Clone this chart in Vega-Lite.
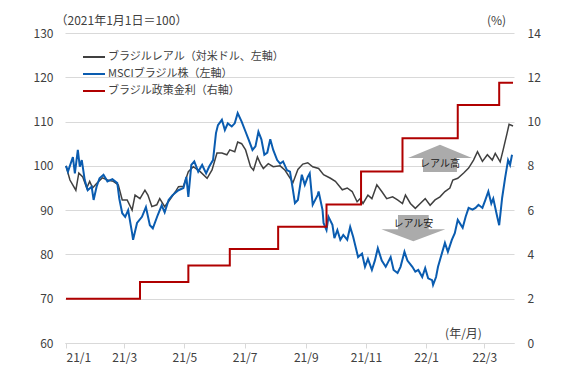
{
  "$schema": "https://vega.github.io/schema/vega-lite/v6.json",
  "width": 449,
  "height": 310,
  "autosize": {"type": "none"},
  "padding": {"left": 65, "top": 33, "right": 51, "bottom": 33},
  "background": "#ffffff",
  "config": {
    "view": {"stroke": null},
    "font": "Noto Sans CJK JP",
    "axis": {"labelFont": "Noto Sans CJK JP", "titleFont": "Noto Sans CJK JP", "labelColor": "#404040", "titleColor": "#404040", "titleFontWeight": "normal"},
    "legend": {"labelFont": "Noto Sans CJK JP"}
  },
  "datasets": {
    "brl": [
      {"d":"2021-01-01","v":100},{"d":"2021-01-05","v":96.8},{"d":"2021-01-11","v":94.5},{"d":"2021-01-14","v":98.4},{"d":"2021-01-18","v":97.5},{"d":"2021-01-22","v":95},{"d":"2021-01-25","v":96.5},{"d":"2021-01-28","v":95},{"d":"2021-02-01","v":96},{"d":"2021-02-07","v":97.3},{"d":"2021-02-12","v":96.8},{"d":"2021-02-18","v":96.5},{"d":"2021-02-23","v":95.7},{"d":"2021-02-27","v":92.3},{"d":"2021-03-04","v":92.3},{"d":"2021-03-09","v":90},{"d":"2021-03-12","v":93.4},{"d":"2021-03-17","v":92.6},{"d":"2021-03-22","v":94.5},{"d":"2021-03-25","v":93.4},{"d":"2021-03-29","v":90.8},{"d":"2021-04-03","v":91.2},{"d":"2021-04-06","v":92.6},{"d":"2021-04-11","v":90.8},{"d":"2021-04-16","v":92.3},{"d":"2021-04-22","v":94.2},{"d":"2021-04-25","v":95.3},{"d":"2021-04-30","v":95.4},{"d":"2021-05-05","v":98.7},{"d":"2021-05-10","v":99.8},{"d":"2021-05-17","v":98.7},{"d":"2021-05-24","v":97.2},{"d":"2021-05-29","v":99.1},{"d":"2021-06-03","v":102.9},{"d":"2021-06-08","v":102.9},{"d":"2021-06-13","v":102.5},{"d":"2021-06-16","v":103.6},{"d":"2021-06-21","v":103.2},{"d":"2021-06-24","v":105.4},{"d":"2021-06-28","v":105},{"d":"2021-07-02","v":103.6},{"d":"2021-07-07","v":99.8},{"d":"2021-07-10","v":99},{"d":"2021-07-14","v":102},{"d":"2021-07-17","v":100.5},{"d":"2021-07-20","v":99.4},{"d":"2021-07-25","v":100.5},{"d":"2021-07-30","v":99.8},{"d":"2021-08-06","v":100},{"d":"2021-08-11","v":99},{"d":"2021-08-19","v":96.2},{"d":"2021-08-24","v":99.2},{"d":"2021-08-29","v":100.4},{"d":"2021-09-03","v":100.7},{"d":"2021-09-08","v":99.8},{"d":"2021-09-14","v":99.4},{"d":"2021-09-19","v":98},{"d":"2021-09-26","v":97.2},{"d":"2021-10-01","v":96.5},{"d":"2021-10-08","v":94.6},{"d":"2021-10-13","v":95},{"d":"2021-10-18","v":94.2},{"d":"2021-10-23","v":91.9},{"d":"2021-10-26","v":92.6},{"d":"2021-10-29","v":91.5},{"d":"2021-11-03","v":93.4},{"d":"2021-11-07","v":92.6},{"d":"2021-11-12","v":95.7},{"d":"2021-11-17","v":94.2},{"d":"2021-11-22","v":92.6},{"d":"2021-11-28","v":93},{"d":"2021-12-03","v":92.3},{"d":"2021-12-08","v":91.5},{"d":"2021-12-11","v":93.4},{"d":"2021-12-16","v":91.5},{"d":"2021-12-21","v":90.4},{"d":"2021-12-26","v":91.5},{"d":"2021-12-31","v":92.6},{"d":"2022-01-05","v":91.1},{"d":"2022-01-10","v":92.3},{"d":"2022-01-15","v":93},{"d":"2022-01-20","v":94.2},{"d":"2022-01-25","v":95},{"d":"2022-01-28","v":96.8},{"d":"2022-02-02","v":97.2},{"d":"2022-02-08","v":98.4},{"d":"2022-02-13","v":99.5},{"d":"2022-02-18","v":101.3},{"d":"2022-02-22","v":103.2},{"d":"2022-02-27","v":101},{"d":"2022-03-04","v":102.5},{"d":"2022-03-09","v":101.3},{"d":"2022-03-12","v":102.8},{"d":"2022-03-17","v":100.9},{"d":"2022-03-20","v":103.6},{"d":"2022-03-24","v":107.4},{"d":"2022-03-26","v":109.4},{"d":"2022-03-30","v":109}
    ],
    "msci": [
      {"d":"2021-01-01","v":100},{"d":"2021-01-03","v":98.7},{"d":"2021-01-08","v":102},{"d":"2021-01-10","v":98.3},{"d":"2021-01-13","v":103.6},{"d":"2021-01-15","v":99.8},{"d":"2021-01-17","v":101.3},{"d":"2021-01-20","v":96.8},{"d":"2021-01-23","v":94.5},{"d":"2021-01-27","v":95.3},{"d":"2021-01-29","v":92.3},{"d":"2021-02-01","v":95.3},{"d":"2021-02-04","v":97.2},{"d":"2021-02-08","v":98},{"d":"2021-02-12","v":96.5},{"d":"2021-02-17","v":97},{"d":"2021-02-22","v":96.1},{"d":"2021-02-24","v":92.6},{"d":"2021-02-27","v":89.3},{"d":"2021-03-02","v":88.5},{"d":"2021-03-05","v":90},{"d":"2021-03-09","v":84.8},{"d":"2021-03-10","v":83.3},{"d":"2021-03-14","v":87.1},{"d":"2021-03-19","v":88.5},{"d":"2021-03-23","v":90.7},{"d":"2021-03-27","v":86.6},{"d":"2021-03-30","v":85.9},{"d":"2021-04-04","v":88.9},{"d":"2021-04-08","v":91.1},{"d":"2021-04-11","v":89.5},{"d":"2021-04-15","v":92.3},{"d":"2021-04-19","v":93.4},{"d":"2021-04-25","v":94.5},{"d":"2021-04-30","v":95},{"d":"2021-05-03","v":97.5},{"d":"2021-05-05","v":93},{"d":"2021-05-08","v":100.2},{"d":"2021-05-11","v":101},{"d":"2021-05-15","v":98.7},{"d":"2021-05-19","v":100.2},{"d":"2021-05-23","v":98.3},{"d":"2021-05-26","v":99.8},{"d":"2021-05-30","v":101.3},{"d":"2021-06-02","v":107.4},{"d":"2021-06-04","v":109.2},{"d":"2021-06-08","v":110.4},{"d":"2021-06-11","v":108.1},{"d":"2021-06-14","v":109.6},{"d":"2021-06-18","v":108.9},{"d":"2021-06-21","v":109.6},{"d":"2021-06-24","v":111.9},{"d":"2021-06-28","v":110},{"d":"2021-07-02","v":107.7},{"d":"2021-07-05","v":106},{"d":"2021-07-09","v":103.6},{"d":"2021-07-12","v":104.4},{"d":"2021-07-15","v":107.7},{"d":"2021-07-18","v":106},{"d":"2021-07-21","v":102.5},{"d":"2021-07-24","v":103},{"d":"2021-07-27","v":106},{"d":"2021-07-30","v":103.6},{"d":"2021-08-03","v":101.3},{"d":"2021-08-06","v":100.5},{"d":"2021-08-09","v":101},{"d":"2021-08-13","v":99},{"d":"2021-08-16","v":98.7},{"d":"2021-08-19","v":94.5},{"d":"2021-08-21","v":91.6},{"d":"2021-08-24","v":92.3},{"d":"2021-08-28","v":98},{"d":"2021-08-31","v":95.7},{"d":"2021-09-03","v":97.5},{"d":"2021-09-05","v":98.3},{"d":"2021-09-08","v":91.2},{"d":"2021-09-13","v":93.4},{"d":"2021-09-14","v":94.2},{"d":"2021-09-18","v":90},{"d":"2021-09-19","v":87.1},{"d":"2021-09-22","v":85.5},{"d":"2021-09-24","v":88.5},{"d":"2021-09-28","v":86.7},{"d":"2021-09-30","v":83.7},{"d":"2021-10-03","v":85.5},{"d":"2021-10-06","v":83.3},{"d":"2021-10-09","v":84.4},{"d":"2021-10-13","v":83.3},{"d":"2021-10-16","v":86.2},{"d":"2021-10-19","v":84},{"d":"2021-10-24","v":79.4},{"d":"2021-10-28","v":80.2},{"d":"2021-10-31","v":77.2},{"d":"2021-11-03","v":79},{"d":"2021-11-07","v":76.5},{"d":"2021-11-10","v":78.6},{"d":"2021-11-13","v":81.4},{"d":"2021-11-17","v":78.6},{"d":"2021-11-21","v":77.2},{"d":"2021-11-26","v":79.4},{"d":"2021-11-29","v":76.5},{"d":"2021-12-03","v":75.8},{"d":"2021-12-06","v":77.2},{"d":"2021-12-10","v":80.6},{"d":"2021-12-13","v":78.6},{"d":"2021-12-18","v":77.2},{"d":"2021-12-21","v":76.1},{"d":"2021-12-24","v":76.5},{"d":"2021-12-28","v":74.9},{"d":"2021-12-31","v":76.9},{"d":"2022-01-03","v":74.6},{"d":"2022-01-07","v":74.2},{"d":"2022-01-08","v":73.1},{"d":"2022-01-11","v":74.9},{"d":"2022-01-13","v":77.2},{"d":"2022-01-17","v":80.3},{"d":"2022-01-20","v":82.6},{"d":"2022-01-23","v":80.6},{"d":"2022-01-27","v":83.3},{"d":"2022-01-30","v":84.8},{"d":"2022-02-02","v":87.8},{"d":"2022-02-07","v":86},{"d":"2022-02-10","v":88.5},{"d":"2022-02-13","v":90.5},{"d":"2022-02-17","v":90.1},{"d":"2022-02-20","v":90.5},{"d":"2022-02-23","v":91.2},{"d":"2022-02-27","v":90.5},{"d":"2022-03-02","v":92.3},{"d":"2022-03-05","v":94.2},{"d":"2022-03-08","v":91.5},{"d":"2022-03-10","v":92.6},{"d":"2022-03-14","v":88.5},{"d":"2022-03-16","v":86.6},{"d":"2022-03-19","v":92.8},{"d":"2022-03-22","v":97.3},{"d":"2022-03-25","v":101.3},{"d":"2022-03-27","v":100.2},{"d":"2022-03-29","v":102.5}
    ],
    "selic": [
      {"d":"2021-01-01","r":2.0},{"d":"2021-03-17","r":2.75},{"d":"2021-05-05","r":3.5},{"d":"2021-06-16","r":4.25},{"d":"2021-08-04","r":5.25},{"d":"2021-09-22","r":6.25},{"d":"2021-10-27","r":7.75},{"d":"2021-12-08","r":9.25},{"d":"2022-02-02","r":10.75},{"d":"2022-03-16","r":11.75},{"d":"2022-03-30","r":11.75}
    ],
    "up": [{"d":"2022-01-15","v":101.8}],
    "down": [{"d":"2021-12-19","v":85.7}],
    "labels": [{"d":"2022-01-15","v":100.4,"t":"レアル高"},{"d":"2021-12-19","v":86.9,"t":"レアル安"}]
  },
  "layer": [
    {
      "encoding": {
        "x": {
          "field": "d", "type": "temporal",
          "scale": {"type": "utc", "domain": [{"year":2020,"month":12,"date":31,"utc":true},{"year":2022,"month":3,"date":31,"utc":true}]},
          "axis": {
            "values": [
              {"year":2021,"month":1,"date":1,"utc":true},{"year":2021,"month":3,"date":1,"utc":true},{"year":2021,"month":5,"date":1,"utc":true},{"year":2021,"month":7,"date":1,"utc":true},{"year":2021,"month":9,"date":1,"utc":true},{"year":2021,"month":11,"date":1,"utc":true},{"year":2022,"month":1,"date":1,"utc":true},{"year":2022,"month":3,"date":1,"utc":true}
            ],
            "format": "%y/%-m",
            "labelFontSize": 12, "labelPadding": 4,
            "grid": false, "domainColor": "#d9d9d9", "tickColor": "#d9d9d9", "tickSize": 5,
            "title": "(年/月)", "titleFontSize": 12, "titleAngle": 0, "titleAlign": "center", "titleBaseline": "middle", "titleX": 398, "titleY": -10
          }
        },
        "y": {
          "field": "v", "type": "quantitative",
          "scale": {"domain": [60, 130], "nice": false, "zero": false},
          "axis": {
            "values": [60,70,80,90,100,110,120,130],
            "grid": true, "gridColor": "#d9d9d9", "domain": false, "ticks": false,
            "labelFontSize": 12, "labelPadding": 12,
            "title": "（2021年1月1日＝100）", "titleFontSize": 12, "titleAngle": 0, "titleAlign": "left", "titleBaseline": "alphabetic", "titleX": -10, "titleY": -9
          }
        }
      },
      "layer": [
        {"data": {"name": "up"}, "mark": {"type": "point", "shape": "M0,-0.41 L1,0 L0.53,0 L0.53,0.44 L-0.53,0.44 L-0.53,0 L-1,0 Z", "size": 4096, "filled": true, "fill": "#ababab", "strokeWidth": 0, "opacity": 1}},
        {"data": {"name": "down"}, "mark": {"type": "point", "shape": "M-0.48,-0.44 L0.48,-0.44 L0.48,0 L1,0 L0,0.38 L-1,0 L-0.48,0 Z", "size": 4096, "filled": true, "fill": "#ababab", "strokeWidth": 0, "opacity": 1}},
        {"data": {"name": "labels"}, "mark": {"type": "text", "fontSize": 10, "color": "#1a1a1a", "align": "center", "baseline": "middle"}, "encoding": {"text": {"field": "t"}}},
        {"data": {"name": "brl"}, "mark": {"type": "line", "strokeWidth": 1.5},
         "encoding": {"color": {"datum": "ブラジルレアル（対米ドル、左軸）", "type": "nominal",
           "scale": {"domain": ["ブラジルレアル（対米ドル、左軸）", "MSCIブラジル株（左軸）", "ブラジル政策金利（右軸）"], "range": ["#404040", "#0A5CB0", "#B00000"]},
           "legend": {"orient": "none", "legendX": 17, "legendY": 12, "title": null, "symbolType": "stroke", "symbolSize": 484, "symbolStrokeWidth": 2, "labelFontSize": 11, "labelLimit": 0, "labelColor": "#404040", "labelOffset": 2, "rowPadding": -3, "padding": 0}}}},
        {"data": {"name": "msci"}, "mark": {"type": "line", "strokeWidth": 2},
         "encoding": {"color": {"datum": "MSCIブラジル株（左軸）", "type": "nominal"}}}
      ]
    },
    {
      "data": {"name": "selic"},
      "mark": {"type": "line", "interpolate": "step-after", "strokeWidth": 2},
      "encoding": {
        "x": {"field": "d", "type": "temporal"},
        "y": {
          "field": "r", "type": "quantitative",
          "scale": {"domain": [0, 14], "nice": false},
          "axis": {
            "orient": "right", "values": [0,2,4,6,8,10,12,14],
            "grid": false, "domain": false, "ticks": false,
            "labelFontSize": 12, "labelPadding": 13,
            "title": "(%)", "titleFontSize": 12, "titleAngle": 0, "titleAlign": "center", "titleBaseline": "alphabetic", "titleX": -18, "titleY": -9
          }
        },
        "color": {"datum": "ブラジル政策金利（右軸）", "type": "nominal"}
      }
    }
  ],
  "resolve": {"scale": {"y": "independent"}}
}
